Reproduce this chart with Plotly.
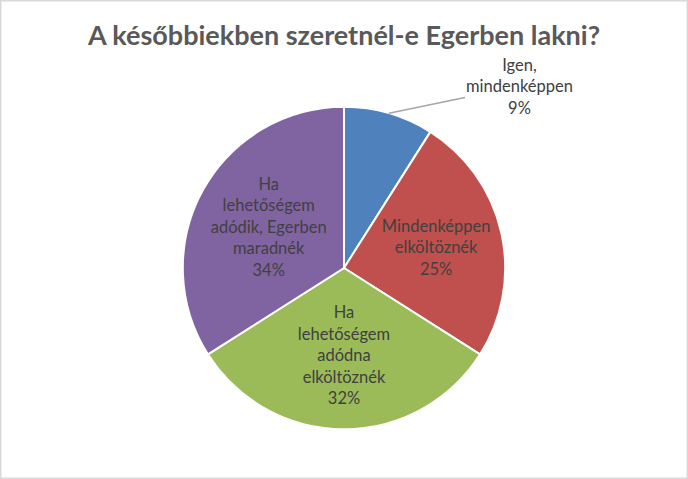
import math
import plotly.graph_objects as go

# Adatok
labels = [
    "Igen,<br>mindenképpen",
    "Mindenképpen<br>elköltöznék",
    "Ha<br>lehetőségem<br>adódna<br>elköltöznék",
    "Ha<br>lehetőségem<br>adódik, Egerben<br>maradnék",
]
values = [9, 25, 32, 34]
colors = ["#4F81BD", "#C0504D", "#9BBB59", "#8064A2"]

W, H = 688, 479
dom_y = [0.104, 0.777]
FONT = "Lato, Noto Sans"

fig = go.Figure(
    go.Pie(
        labels=labels,
        values=values,
        sort=False,
        direction="clockwise",
        rotation=0,
        marker=dict(colors=colors, line=dict(color="white", width=2)),
        texttemplate=["", "%{label}<br>%{value}%", "%{label}<br>%{value}%", "%{label}<br>%{value}%"],
        textposition="inside",
        insidetextorientation="horizontal",
        textfont=dict(family=FONT, size=16.5, color="#404040"),
        showlegend=False,
        hoverinfo="label+percent",
        domain=dict(x=[0.2, 0.8], y=dom_y),
    )
)

# a kis szelet felirata kívül, vezetővonallal
cx, cy = 0.5, (dom_y[0] + dom_y[1]) / 2
r_px = (dom_y[1] - dom_y[0]) * H / 2
mid = values[0] / 2 / sum(values) * 2 * math.pi
tip_x = cx + r_px * math.sin(mid) / W
tip_y = cy + r_px * math.cos(mid) / H

fig.add_annotation(
    x=tip_x, y=tip_y, xref="paper", yref="paper",
    text=f"{labels[0]}<br>{values[0]}%",
    showarrow=True, arrowhead=0, arrowwidth=1.5, arrowcolor="#A6A6A6",
    ax=131, ay=-27,
    font=dict(family=FONT, size=16.5, color="#404040"),
)

fig.update_layout(
    width=W,
    height=H,
    margin=dict(l=0, r=0, t=0, b=0),
    title=dict(
        text="<b>A későbbiekben szeretnél-e Egerben lakni?</b>",
        x=0.5,
        xanchor="center",
        y=0.925,
        yanchor="middle",
        font=dict(family=FONT, size=27, color="#595959"),
    ),
    paper_bgcolor="white",
    uniformtext=dict(minsize=16, mode="show"),
    shapes=[
        dict(
            type="rect", xref="paper", yref="paper",
            x0=0, y0=0, x1=1, y1=1,
            line=dict(color="#D9D9D9", width=3),
        )
    ],
)

fig.write_html(
    "out.html",
    config={"displayModeBar": False},
    post_script="document.body.style.margin='0';",
)
